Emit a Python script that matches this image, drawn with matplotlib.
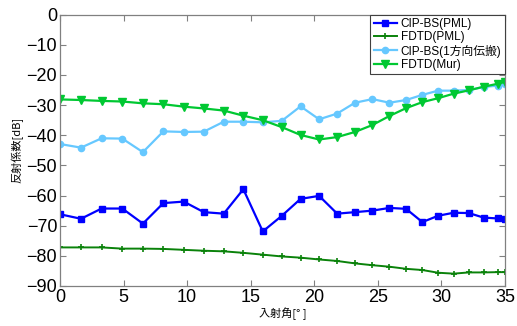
import matplotlib
matplotlib.use("Agg")
import matplotlib.pyplot as plt

plt.rcParams['font.family'] = ['Liberation Sans', 'Noto Sans CJK JP', 'DejaVu Sans']

angles = [0, 1.65, 3.27, 4.90, 6.52, 8.13, 9.73, 11.31, 12.88, 14.42, 15.95, 17.45,
          18.92, 20.38, 21.80, 23.20, 24.57, 25.91, 27.22, 28.50, 29.74, 30.96,
          32.15, 33.31, 34.44, 35.0]

cip_pml = [-66.2, -67.7, -64.3, -64.3, -69.3, -62.5, -62.0, -65.5, -66.0, -57.9,
           -71.9, -66.7, -61.1, -60.1, -66.0, -65.5, -65.0, -64.1, -64.4, -68.8,
           -66.7, -65.7, -65.8, -67.3, -67.6, -67.7]

fdtd_pml = [-77.2, -77.2, -77.2, -77.6, -77.6, -77.7, -78.0, -78.3, -78.5, -79.0,
            -79.6, -80.2, -80.6, -81.2, -81.7, -82.5, -83.1, -83.6, -84.3, -84.7,
            -85.6, -85.9, -85.5, -85.5, -85.4, -85.4]

cip_oneway = [-42.9, -44.1, -41.0, -41.1, -45.6, -38.7, -38.9, -38.8, -35.5, -35.5,
              -35.7, -35.2, -30.4, -34.7, -32.8, -29.2, -28.0, -29.2, -28.3, -26.6,
              -25.2, -25.2, -25.0, -24.0, -23.5, -22.9]

fdtd_mur = [-28.1, -28.3, -28.6, -28.8, -29.4, -29.7, -30.5, -31.1, -31.8, -33.5,
            -35.0, -37.3, -39.9, -41.4, -40.6, -38.9, -36.6, -33.6, -31.0, -29.0,
            -27.7, -26.2, -25.1, -23.9, -22.9, -22.3]

labels = ['CIP-BS(PML)', 'FDTD(PML)', 'CIP-BS(1方向伝搬)', 'FDTD(Mur)']
xticks = [0, 5, 10, 15, 20, 25, 30, 35]
yticks = [0, -10, -20, -30, -40, -50, -60, -70, -80, -90]

fig = plt.figure(figsize=(5.17, 3.26), dpi=100)
ax = fig.add_axes([60/517, 1-286/326, 445/517, (286-14.7)/326])

ax.plot(angles, cip_pml, color='#0000ff', marker='s', markersize=4.5, lw=1.6,
        markerfacecolor='#0000ff', label=labels[0])
ax.plot(angles, fdtd_pml, color='#0a820a', marker='+', markersize=4, mew=1.2, lw=1.4,
        label=labels[1])
ax.plot(angles, cip_oneway, color='#66c8ff', marker='o', markersize=4.5, lw=1.6,
        label=labels[2])
ax.plot(angles, fdtd_mur, color='#00c832', marker='v', markersize=5.5, lw=1.6,
        label=labels[3])

ax.set_xlim(0, 35)
ax.set_ylim(-90, 0)
ax.set_xticks(xticks)
ax.set_yticks(yticks)
ax.set_xticklabels([str(t) for t in xticks])
ax.set_yticklabels(['\u2212' + str(-t) if t < 0 else str(t) for t in yticks])
ax.tick_params(direction='in', top=True, right=True, length=4, width=0.8,
               color='#808080', labelsize=13, pad=2)
for s in ax.spines.values():
    s.set_color('#808080')
    s.set_linewidth(0.9)

ax.set_xlabel('入射角[° ]', fontsize=8, family=['Noto Sans CJK JP', 'DejaVu Sans'], labelpad=1)
ax.set_ylabel('反射係数[dB]', fontsize=8, family=['Noto Sans CJK JP', 'DejaVu Sans'], labelpad=2)

leg = ax.legend(loc='upper right', borderaxespad=0, fancybox=False, framealpha=1,
                edgecolor='#404040', handlelength=2.0, handletextpad=0.3,
                borderpad=0.3, labelspacing=0.1,
                prop={'family': ['Liberation Sans', 'Noto Sans CJK JP'], 'size': 8.5})
leg.get_frame().set_linewidth(0.8)

fig.savefig('out.png', dpi=100)
